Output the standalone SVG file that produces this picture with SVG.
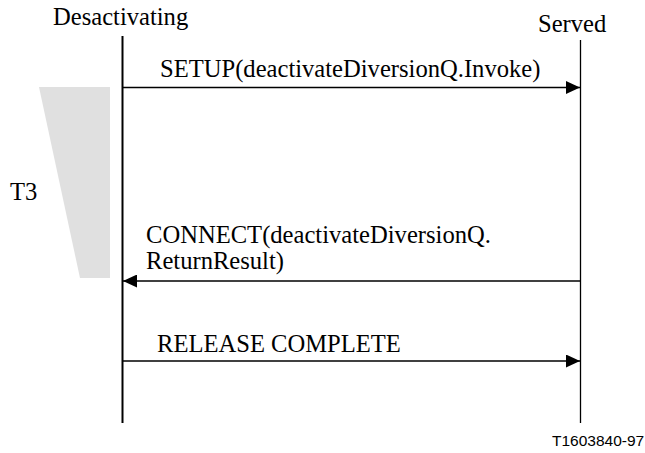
<svg xmlns="http://www.w3.org/2000/svg" width="645" height="453" viewBox="0 0 645 453">
<style>
.t{font-family:'Liberation Serif','Times New Roman',Times,serif;font-size:24.6px;fill:#000}
.s{font-family:'Liberation Sans',Arial,sans-serif;font-size:15.5px;fill:#000}
.msg{stroke:#000;stroke-width:1.3;fill:none;marker-end:url(#ah)}
</style>
<defs>
<marker id="ah" markerUnits="userSpaceOnUse" markerWidth="15" markerHeight="13" refX="14" refY="6.5" orient="auto">
<path d="M0,0 L14,6.5 L0,13 Z" fill="#000"/>
</marker>
</defs>
<rect width="645" height="453" fill="#fff"/>
<g id="timer">
<polygon points="39,87 110,87 110,278 80,278" fill="#e0e0e0"/>
<text class="t" x="10" y="200">T3</text>
</g>
<g id="desactivating">
<text class="t" x="53" y="25">Desactivating</text>
<line x1="122.5" y1="36" x2="122.5" y2="423" stroke="#000" stroke-width="2"/>
</g>
<g id="served">
<text class="t" x="538" y="32">Served</text>
<line x1="580.5" y1="40" x2="580.5" y2="423" stroke="#000" stroke-width="1.3"/>
</g>
<g id="connectors">
<line class="msg" x1="123" y1="87.5" x2="580" y2="87.5"/>
<line class="msg" x1="581" y1="281" x2="123" y2="281"/>
<line class="msg" x1="123" y1="361" x2="580" y2="361"/>
</g>
<g id="labels">
<text class="t" x="160" y="77">SETUP(deactivateDiversionQ.Invoke)</text>
<text class="t" x="146" y="243">CONNECT(deactivateDiversionQ.</text>
<text class="t" x="146" y="269">ReturnResult)</text>
<text class="t" x="157" y="352">RELEASE COMPLETE</text>
<text class="s" x="552" y="446">T1603840-97</text>
</g>
</svg>
